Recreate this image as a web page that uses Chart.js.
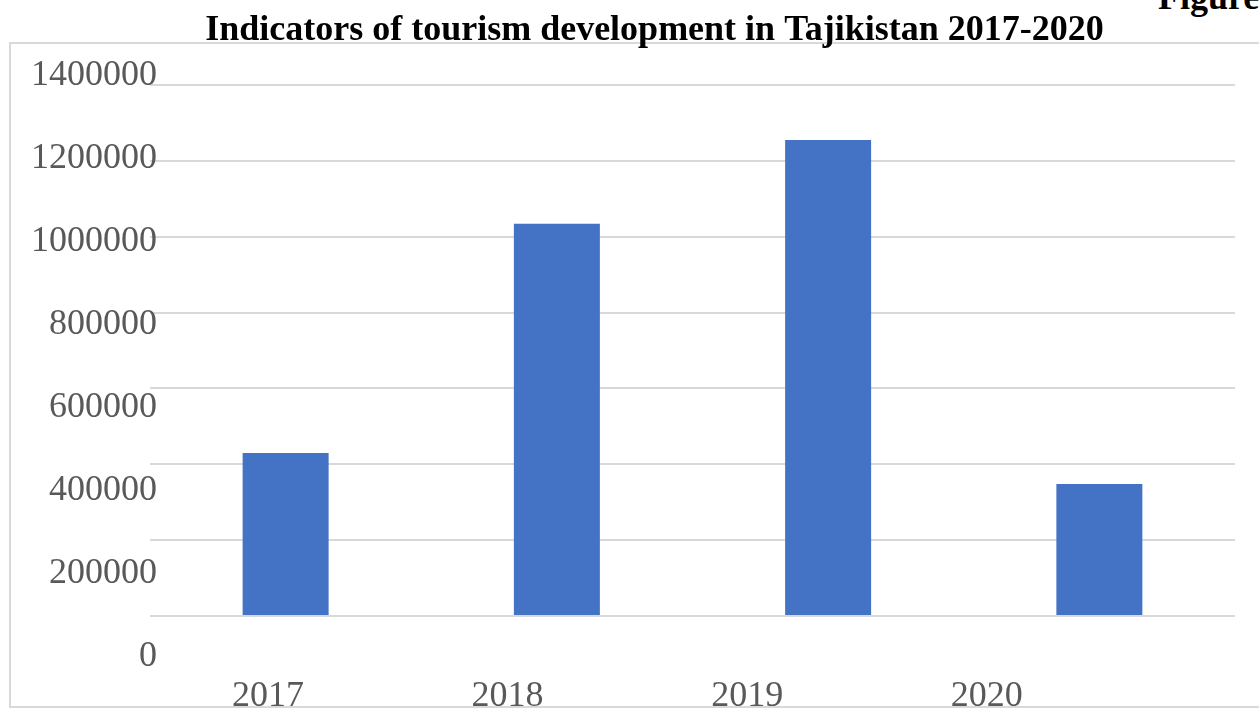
<!DOCTYPE html>
<html>
<head>
<meta charset="utf-8">
<script src="https://cdn.jsdelivr.net/npm/chart.js@4"></script>
<style>
  body { margin: 0; background: #fff; overflow: hidden; }
  #wrap { position: relative; width: 1259px; height: 709px; }
  #frame { position: absolute; left: 9px; top: 42px; width: 1262px; height: 662px; border: 2px solid #d9d9d9; }
  #fig { position: absolute; left: 1158px; top: -24px; font: bold 36px 'Liberation Serif', 'Times New Roman', serif; white-space: nowrap; }
  canvas { position: absolute; left: 0; top: 0; }
</style>
</head>
<body>
<div id="wrap">
  <div id="frame"></div>
  <div id="fig">Figure</div>
  <canvas id="tourism-chart"></canvas>
</div>
<script>
// Tourism indicators
const years = ['2017', '2018', '2019', '2020'];
const tourists = [430000, 1034000, 1255000, 348000];
const gridValues = [0, 200000, 400000, 600000, 800000, 1000000, 1200000, 1400000];
const yTickLabels = ['0', '200000', '400000', '600000', '800000', '1000000', '1200000', '1400000'];

const COLORS = {
  bar: '#4472C4',
  grid: '#d9d9d9',
  text: '#595959',
  title: '#000000'
};
const SERIF = "'Liberation Serif', 'Times New Roman', serif";

// in the original the labels drift away from the gridlines,
// so they sit on their own index axes (one tick per label)
function indexTicks(list) {
  return scale => { scale.ticks = list.map((_, i) => ({ value: i })); };
}

const chartCanvas = document.getElementById('tourism-chart');
chartCanvas.width = 1259;
chartCanvas.height = 709;

new Chart(chartCanvas, {
  type: 'bar',
  data: {
    labels: years,
    datasets: [{
      data: tourists,
      backgroundColor: COLORS.bar,
      borderWidth: 0,
      barPercentage: 0.317,
      categoryPercentage: 1
    }]
  },
  options: {
    responsive: false,
    animation: false,
    // left padding pushes the title centre to the right like the original
    layout: { padding: { left: 74, right: 24, top: 0, bottom: 0 } },
    scales: {
      x: {
        type: 'category',
        display: false
      },
      xLabels: {
        type: 'linear',
        position: 'bottom',
        offset: false,
        min: -0.4925,
        max: 4.036,
        grid: { display: false, drawTicks: false },
        border: { display: false },
        ticks: {
          padding: 7,
          color: COLORS.text,
          font: { family: SERIF, size: 36 },
          maxRotation: 0,
          autoSkip: false,
          callback: v => years[Math.round(v)]
        },
        afterBuildTicks: indexTicks(years),
        afterFit: s => { s.height = 41; }
      },
      y: {
        type: 'linear',
        position: 'left',
        min: -137100,
        max: 1465913,
        grid: { color: COLORS.grid, lineWidth: 2, drawTicks: false },
        border: { display: false },
        ticks: { display: false },
        afterBuildTicks: s => { s.ticks = gridValues.map(v => ({ value: v })); },
        afterFit: s => { s.width = 0; }
      },
      yLabels: {
        type: 'linear',
        position: 'left',
        min: -0.132,
        max: 7.184,
        grid: { display: false, drawTicks: false },
        border: { display: false },
        ticks: {
          padding: -7,
          color: COLORS.text,
          font: { family: SERIF, size: 36 },
          autoSkip: false,
          callback: v => yTickLabels[Math.round(v)]
        },
        afterBuildTicks: indexTicks(yTickLabels),
        afterFit: s => {
          s.width = 76;
          s._computeLabelArea = () => undefined; // let labels run past the axis box
        }
      }
    },
    plugins: {
      legend: { display: false },
      tooltip: { enabled: false },
      title: {
        display: true,
        text: 'Indicators of tourism development in Tajikistan 2017-2020',
        color: COLORS.title,
        font: { family: SERIF, size: 36, weight: 'bold', lineHeight: 1 },
        padding: { top: 13, bottom: 11 }
      }
    }
  }
});
</script>
</body>
</html>
